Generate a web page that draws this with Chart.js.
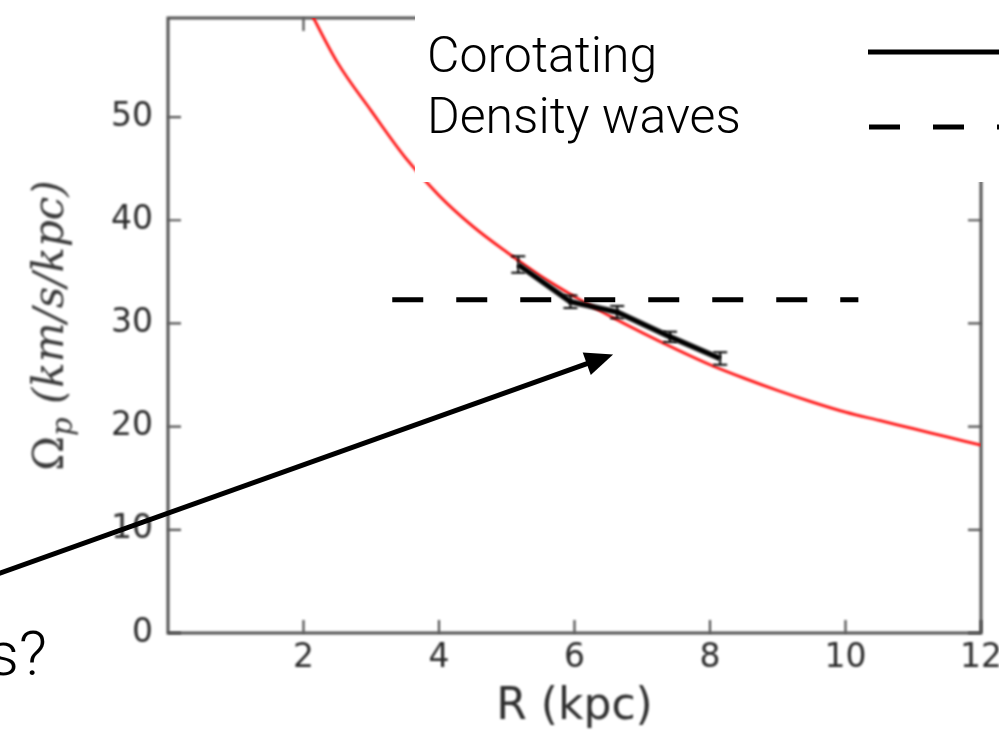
<!DOCTYPE html>
<html>
<head>
<meta charset="utf-8">
<script src="https://cdn.jsdelivr.net/npm/chart.js@4.4.1/dist/chart.umd.min.js"></script>
<style>
  html, body { margin: 0; padding: 0; background: #ffffff; overflow: hidden; }
  #wrap { width: 999px; height: 730px; position: relative; }
</style>
</head>
<body>
<div id="wrap"><canvas id="chart" width="999" height="730"></canvas></div>
<script>
// Model pattern-speed curve Ω(R)
const curveR     = [2.0, 2.5, 3.0, 3.5, 4.0, 4.5, 5.0, 5.5, 6.0, 6.5, 7.0, 7.5, 8.0, 8.5, 9.0, 9.5, 10.0, 10.5, 11.0, 11.5, 12.0];
const curveOmega = [61.5, 55.3, 50.6, 46.1, 42.4, 39.4, 36.9, 34.6, 32.6, 30.8, 29.1, 27.5, 26.0, 24.7, 23.5, 22.4, 21.4, 20.6, 19.8, 19.0, 18.2];

// Measured corotating pattern speeds and their uncertainties
const pointR     = [5.17, 5.94, 6.63, 7.41, 8.15];
const pointOmega = [35.7, 32.1, 31.1, 28.7, 26.6];
const pointErr   = [0.8, 0.6, 0.6, 0.5, 0.6];

// Single pattern speed expected from density waves
const waveR     = [3.31, 10.19];
const waveOmega = [32.3, 32.3];

// Axis ticks and labels
const xTicks = [2, 4, 6, 8, 10, 12];
const yTicks = [0, 10, 20, 30, 40, 50];
const xTitle = 'R (kpc)';
const legendLabels = ['Corotating', 'Density waves'];
const questionTail = 's?';

// Pointer from the question towards the measurements (data units)
const arrowTail = { x: -2.6, y: 5.53 };
const arrowHead = { x: 6.57, y: 27.0 };

const toPoints = (xs, ys) => xs.map((x, i) => ({ x: x, y: ys[i] }));

const PLOT_BLUR = 'blur(0.9px)';

const decorations = {
  id: 'decorations',
  beforeDraw(chart) {
    chart.ctx.filter = PLOT_BLUR;
  },
  beforeDatasetsDraw(chart) {
    const ctx = chart.ctx;
    const { left, right, top, bottom } = chart.chartArea;
    const xs = chart.scales.x, ys = chart.scales.y;
    ctx.save();
    ctx.filter = PLOT_BLUR;
    ctx.strokeStyle = '#505050';
    ctx.lineWidth = 3;
    ctx.strokeRect(left, top, right - left, bottom - top);
    // inward tick marks on all four sides
    ctx.lineWidth = 2.2;
    const tl = 13;
    ctx.beginPath();
    xTicks.forEach(v => {
      const px = xs.getPixelForValue(v);
      ctx.moveTo(px, bottom); ctx.lineTo(px, bottom - tl);
      ctx.moveTo(px, top); ctx.lineTo(px, top + tl);
    });
    yTicks.forEach(v => {
      const py = ys.getPixelForValue(v);
      ctx.moveTo(left, py); ctx.lineTo(left + tl, py);
      ctx.moveTo(right, py); ctx.lineTo(right - tl, py);
    });
    ctx.stroke();

    // x axis title
    ctx.fillStyle = '#2e2e2e';
    ctx.font = '44px "DejaVu Sans"';
    ctx.textAlign = 'center';
    ctx.textBaseline = 'alphabetic';
    ctx.fillText(xTitle, (left + right) / 2, 719);

    // y axis title: Ω with subscript p, then units
    ctx.fillStyle = '#3a3a3a';
    const cy = (top + bottom) / 2;
    ctx.translate(63, cy);
    ctx.rotate(-Math.PI / 2);
    ctx.textAlign = 'left';
    const fOmega = '42px "DejaVu Serif"';
    const fSub = 'italic 29px "DejaVu Serif"';
    const fUnit = 'italic 42px "DejaVu Serif"';
    const unitText = ' (km/s/kpc)';
    ctx.font = fOmega; const wO = ctx.measureText('Ω').width;
    ctx.font = fSub; const wP = ctx.measureText('p').width;
    ctx.font = fUnit; const wU = ctx.measureText(unitText).width;
    let x0 = -(wO + wP + wU) / 2;
    ctx.font = fOmega; ctx.fillText('Ω', x0, 0); x0 += wO;
    ctx.font = fSub; ctx.fillText('p', x0, 9); x0 += wP;
    ctx.font = fUnit; ctx.fillText(unitText, x0, 0);
    ctx.restore();
  },
  beforeDatasetDraw(chart, args) {
    chart.ctx.filter = args.index < 2 ? PLOT_BLUR : 'none';
  },
  afterDatasetDraw(chart, args) {
    if (args.index === 1) {
      // error bars on the measured points
      const ctx = chart.ctx;
      const xs = chart.scales.x, ys = chart.scales.y;
      ctx.save();
      ctx.strokeStyle = '#000000';
      ctx.lineWidth = 2;
      ctx.beginPath();
      pointR.forEach((r, i) => {
        const px = xs.getPixelForValue(r);
        const y1 = ys.getPixelForValue(pointOmega[i] + pointErr[i]);
        const y2 = ys.getPixelForValue(pointOmega[i] - pointErr[i]);
        ctx.moveTo(px, y1); ctx.lineTo(px, y2);
        ctx.moveTo(px - 7, y1); ctx.lineTo(px + 7, y1);
        ctx.moveTo(px - 7, y2); ctx.lineTo(px + 7, y2);
      });
      ctx.stroke();
      ctx.restore();
    }
    chart.ctx.filter = 'none';
  },
  afterDatasetsDraw(chart) {
    chart.ctx.filter = 'none';
  },
  afterDraw(chart) {
    const ctx = chart.ctx;
    const xs = chart.scales.x, ys = chart.scales.y;
    ctx.save();
    ctx.filter = 'none';

    // legend panel
    ctx.fillStyle = '#ffffff';
    ctx.fillRect(415, 0, 999 - 415, 182);
    ctx.fillStyle = '#000000';
    ctx.font = '300 50px Roboto, "Liberation Sans", sans-serif';
    ctx.textAlign = 'left';
    ctx.textBaseline = 'alphabetic';
    ctx.fillText(legendLabels[0], 427, 72);
    ctx.fillText(legendLabels[1], 427, 133);
    ctx.strokeStyle = '#000000';
    ctx.lineWidth = 5;
    ctx.beginPath();
    ctx.moveTo(868, 52); ctx.lineTo(1000, 52);
    ctx.stroke();
    ctx.setLineDash([31, 33]);
    ctx.beginPath();
    ctx.moveTo(869, 127); ctx.lineTo(1000, 127);
    ctx.stroke();
    ctx.setLineDash([]);

    // question text at the lower left
    ctx.font = '300 62px Roboto, "Liberation Sans", sans-serif';
    ctx.textAlign = 'right';
    ctx.fillText(questionTail, 47, 675);

    // arrow
    const tx = xs.getPixelForValue(arrowTail.x), ty = ys.getPixelForValue(arrowTail.y);
    const hx = xs.getPixelForValue(arrowHead.x), hy = ys.getPixelForValue(arrowHead.y);
    const len = Math.hypot(hx - tx, hy - ty);
    const ux = (hx - tx) / len, uy = (hy - ty) / len;
    const headLen = 28, headHalf = 12;
    const bx = hx - ux * headLen, by = hy - uy * headLen;
    ctx.lineWidth = 5;
    ctx.beginPath();
    ctx.moveTo(tx, ty); ctx.lineTo(bx + ux * 4, by + uy * 4);
    ctx.stroke();
    ctx.beginPath();
    ctx.moveTo(hx, hy);
    ctx.lineTo(bx - uy * headHalf, by + ux * headHalf);
    ctx.lineTo(bx + uy * headHalf, by - ux * headHalf);
    ctx.closePath();
    ctx.fill();
    ctx.restore();
  }
};

new Chart(document.getElementById('chart'), {
  type: 'scatter',
  data: {
    datasets: [
      {
        label: 'model',
        data: toPoints(curveR, curveOmega),
        showLine: true,
        borderColor: '#ff1010',
        borderWidth: 2.8,
        pointRadius: 0,
        cubicInterpolationMode: 'monotone',
        order: 3
      },
      {
        label: legendLabels[0],
        data: toPoints(pointR, pointOmega),
        showLine: true,
        borderColor: '#000000',
        borderWidth: 5.5,
        pointRadius: 0,
        order: 2
      },
      {
        label: legendLabels[1],
        data: toPoints(waveR, waveOmega),
        showLine: true,
        borderColor: '#000000',
        borderWidth: 5,
        borderDash: [31, 33],
        borderCapStyle: 'butt',
        pointRadius: 0,
        order: 1
      }
    ]
  },
  options: {
    responsive: false,
    animation: false,
    devicePixelRatio: 1,
    layout: { padding: { top: 18, right: 18, left: 0, bottom: 0 } },
    plugins: { legend: { display: false }, tooltip: { enabled: false } },
    scales: {
      x: {
        type: 'linear',
        min: 0, max: 12,
        afterBuildTicks: s => { s.ticks = xTicks.map(v => ({ value: v })); },
        afterFit: s => { s.height = 97; s.paddingLeft = 0; s.paddingRight = 0; },
        grid: { display: false, drawTicks: false },
        border: { display: false },
        ticks: {
          font: { family: 'DejaVu Sans', size: 33 },
          color: '#2b2b2b',
          padding: 6,
          maxRotation: 0,
          autoSkip: false
        }
      },
      y: {
        type: 'linear',
        min: 0, max: 59.6,
        afterBuildTicks: s => { s.ticks = yTicks.map(v => ({ value: v })); },
        afterFit: s => { s.width = 168; s.paddingTop = 0; s.paddingBottom = 0; },
        grid: { display: false, drawTicks: false },
        border: { display: false },
        ticks: {
          font: { family: 'DejaVu Sans', size: 33 },
          color: '#2b2b2b',
          padding: 15,
          autoSkip: false
        }
      }
    }
  },
  plugins: [decorations]
});
</script>
</body>
</html>
